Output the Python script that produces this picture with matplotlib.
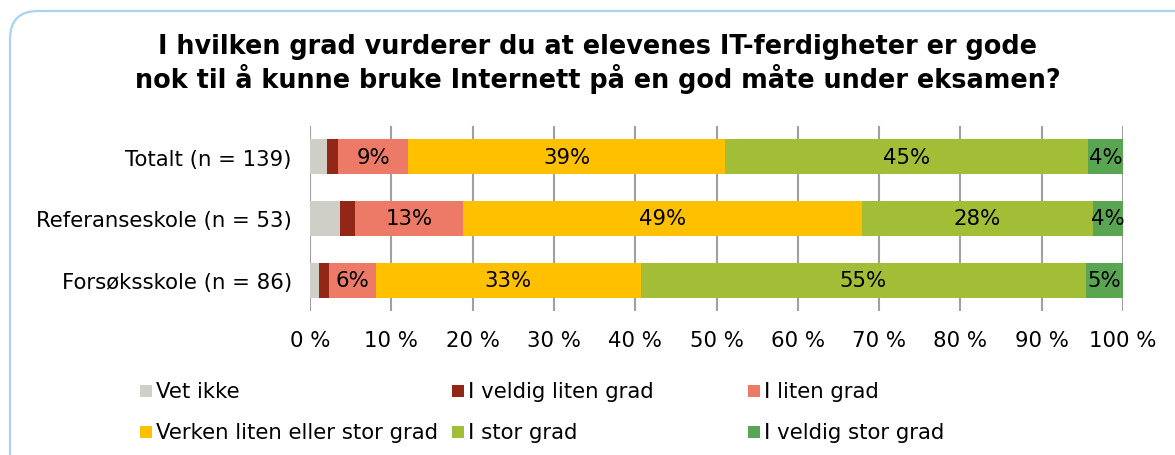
import matplotlib.pyplot as plt
import matplotlib.transforms as mtransforms
from matplotlib.patches import FancyBboxPatch, Rectangle

# Categories (top to bottom)
groups = ["Totalt (n = 139)", "Referanseskole (n = 53)", "Forsøksskole (n = 86)"]

# Answer categories
answers = ["Vet ikke", "I veldig liten grad", "I liten grad",
           "Verken liten eller stor grad", "I stor grad", "I veldig stor grad"]

# Percent per group
vet_ikke = [2.1, 3.7, 1.1]
veldig_liten = [1.4, 1.8, 1.2]
liten = [8.6, 13.3, 5.8]
verken = [39.0, 49.1, 32.6]
stor = [44.6, 28.4, 54.7]
veldig_stor = [4.3, 3.7, 4.6]

series = [vet_ikke, veldig_liten, liten, verken, stor, veldig_stor]
colors = ["#D0CFC7", "#922617", "#EC7A66", "#FFC000", "#A2BE36", "#5AA552"]
show_label = [False, False, True, True, True, True]

xticks = list(range(0, 101, 10))

FS = 15.3


def main():
    fig = plt.figure(figsize=(11.75, 4.56), dpi=100)

    # rounded frame around the chart
    frame = FancyBboxPatch((10, -30), 1220, 474,
                           boxstyle="round,pad=0,rounding_size=28",
                           transform=mtransforms.IdentityTransform(),
                           facecolor="none", edgecolor="#A9D2F3", linewidth=1.6,
                           zorder=-5)
    fig.patches.append(frame)

    ax = fig.add_axes([310 / 1175, 1 - 312 / 456, 813 / 1175, 185 / 456])

    ypos = list(range(len(groups)))
    left = [0.0] * len(groups)
    for vals, col, lab in zip(series, colors, show_label):
        ax.barh(ypos, vals, left=left, height=0.57, color=col, zorder=3)
        if lab:
            for y, l, v in zip(ypos, left, vals):
                ax.text(l + v / 2, y, f"{round(v)}%", ha="center", va="center",
                        fontsize=FS, color="black", zorder=4)
        left = [l + v for l, v in zip(left, vals)]

    ax.set_xlim(0, 100)
    ax.set_ylim(len(groups) - 0.5, -0.5)
    ax.set_yticks(ypos)
    ax.set_yticklabels(groups, fontsize=FS)
    ax.set_xticks(xticks)
    ax.set_xticklabels([f"{t} %" for t in xticks], fontsize=FS)
    ax.tick_params(axis="y", length=0, pad=13)
    ax.tick_params(axis="x", length=0, pad=14)
    ax.grid(axis="x", color="#A0A0A0", linewidth=1.5, zorder=0)
    for s in ax.spines.values():
        s.set_visible(False)
    ax.patch.set_alpha(0)

    # title
    fig.text(598 / 1175, 1 - 64 / 456,
             "I hvilken grad vurderer du at elevenes IT-ferdigheter er gode\n"
             "nok til å kunne bruke Internett på en god måte under eksamen?",
             ha="center", va="center", fontsize=18.4, fontweight="bold",
             linespacing=1.15)

    # legend, laid out by hand in three columns
    col_x = [146, 458, 754]
    row_y = [392, 433]
    for i, (name, col) in enumerate(zip(answers, colors)):
        r, c = divmod(i, 3)
        x = col_x[c]
        y = 456 - row_y[r]
        fig.patches.append(Rectangle((x - 6, y - 6), 12, 12, facecolor=col,
                                     edgecolor="none",
                                     transform=mtransforms.IdentityTransform()))
        fig.text((x + 10) / 1175, y / 456, name, ha="left", va="center",
                 fontsize=FS)

    fig.savefig("out.png", dpi=100)


if __name__ == "__main__":
    main()
